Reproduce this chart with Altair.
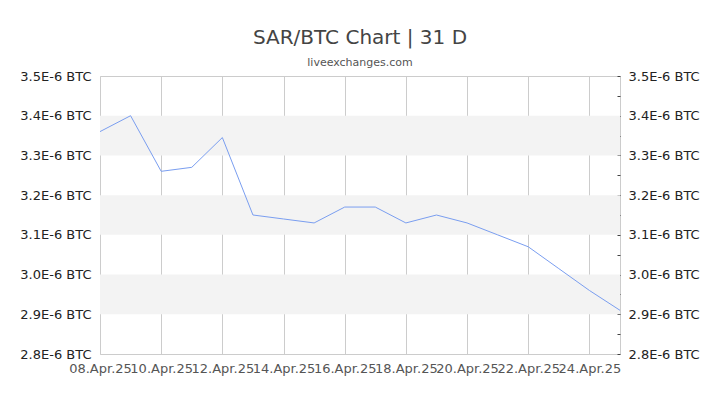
import altair as alt
import pandas as pd

# ---- data ----
dates = ["2025-04-08", "2025-04-09", "2025-04-10", "2025-04-11", "2025-04-12",
         "2025-04-13", "2025-04-14", "2025-04-15", "2025-04-16", "2025-04-17",
         "2025-04-18", "2025-04-19", "2025-04-20", "2025-04-21", "2025-04-22",
         "2025-04-23", "2025-04-24", "2025-04-25"]
rates = [3.36e-6, 3.40e-6, 3.26e-6, 3.27e-6, 3.345e-6,
         3.15e-6, 3.14e-6, 3.13e-6, 3.17e-6, 3.17e-6,
         3.13e-6, 3.15e-6, 3.13e-6, 3.10e-6, 3.07e-6,
         3.015e-6, 2.96e-6, 2.91e-6]

band_lo = [2.9e-6, 3.1e-6, 3.3e-6]
band_hi = [3.0e-6, 3.2e-6, 3.4e-6]
band_start = ["2025-04-08"] * 3
band_end = ["2025-04-25"] * 3

x_tick_days = [8, 10, 12, 14, 16, 18, 20, 22, 24]
y_major = [2.8e-6, 2.9e-6, 3.0e-6, 3.1e-6, 3.2e-6, 3.3e-6, 3.4e-6, 3.5e-6]
y_minor = [2.8e-6, 2.85e-6, 2.9e-6, 2.95e-6, 3.0e-6, 3.05e-6, 3.1e-6, 3.15e-6,
           3.2e-6, 3.25e-6, 3.3e-6, 3.35e-6, 3.4e-6, 3.45e-6, 3.5e-6]

line_df = pd.DataFrame({"date": dates, "rate": rates})
band_df = pd.DataFrame({"start": band_start, "end": band_end, "lo": band_lo, "hi": band_hi})

FONT = "DejaVu Sans"

x_scale = alt.Scale(type="utc", nice=False,
                    domain=[alt.DateTime(year=2025, month=4, date=8, utc=True),
                            alt.DateTime(year=2025, month=4, date=25, utc=True)])
y_scale = alt.Scale(domain=[2.8e-6, 3.5e-6], nice=False, zero=False)

x_axis = alt.Axis(
    title=None,
    values=[alt.DateTime(year=2025, month=4, date=d, utc=True) for d in x_tick_days],
    format="%d.%b.%y",
    labelOverlap=False,
    labelFlush=False,
    labelFont=FONT, labelFontSize=13, labelColor="#555",
    labelPadding=8,
    ticks=False, domain=False,
    grid=True, gridColor="#cccccc", gridWidth=1,
)

label_expr = "format(datum.value * 1e6, '.1f') + 'E-6 BTC'"

left_axis = alt.Axis(
    title=None, orient="left", values=y_major, labelExpr=label_expr,
    labelFont=FONT, labelFontSize=13, labelColor="#222",
    ticks=False, domain=False, grid=False, labelPadding=9,
)

right_axis = alt.Axis(
    title=None, orient="right", values=y_minor,
    labelExpr="abs(datum.value * 1e7 - round(datum.value * 1e7)) < 0.01 ? "
              + label_expr + " : ''",
    labelFont=FONT, labelFontSize=13, labelColor="#222",
    ticks=True, tickSize=3, tickColor="#444", offset=-3,
    domain=False, grid=False, labelPadding=8,
)

bands = alt.Chart(band_df).mark_rect(color="#f3f3f3").encode(
    x=alt.X("start:T", scale=x_scale, axis=x_axis),
    x2="end:T",
    y=alt.Y("lo:Q", scale=y_scale, axis=left_axis),
    y2="hi:Q",
)

line = alt.Chart(line_df).mark_line(color="#7a9ef0", strokeWidth=1).encode(
    x=alt.X("date:T", scale=x_scale, axis=x_axis),
    y=alt.Y("rate:Q", scale=y_scale, axis=right_axis),
)

chart = alt.layer(bands, line).resolve_axis(y="independent").properties(
    width=520, height=278,
    autosize=alt.AutoSizeParams(type="none"),
    padding={"left": 92, "top": 68, "right": 80, "bottom": 30},
    title=alt.TitleParams(
        text="SAR/BTC Chart | 31 D", subtitle="liveexchanges.com",
        anchor="middle", frame="group",
        font=FONT, fontSize=20, fontWeight="normal", color="#444",
        subtitleFont=FONT, subtitleFontSize=11, subtitleColor="#555",
        offset=2, subtitlePadding=9,
    ),
).configure_view(stroke="#cccccc", strokeWidth=1)

chart.save("out.html", embed_options={"renderer": "svg", "actions": False})
